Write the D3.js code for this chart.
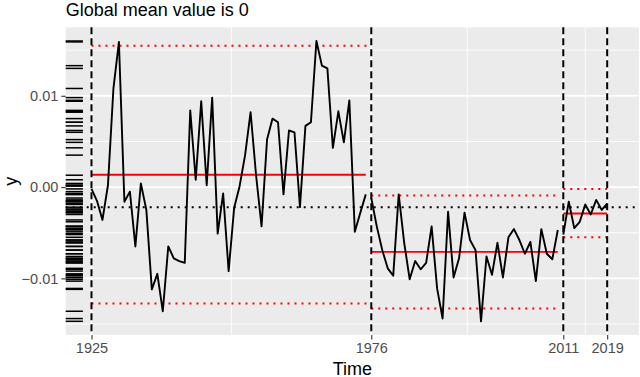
<!DOCTYPE html>
<html><head><meta charset="utf-8">
<script src="https://cdn.jsdelivr.net/npm/d3@7"></script>
<style>body{margin:0;background:#fff;} svg{display:block;font-family:"Liberation Sans",Arial,Helvetica,sans-serif;}</style>
</head><body>
<svg id="chart" width="640" height="377"></svg>
<script>
// ---- data ----
const years1 = d3.range(1925, 1976);
const values1 = [-0.0002,-0.0015,-0.0036,0.0002,0.0108,0.0159,-0.0016,-0.0005,-0.0065,0.0004,
  -0.0025,-0.0112,-0.0095,-0.0136,-0.0065,-0.0078,-0.0081,-0.0083,0.0084,0.0008,
  0.0094,0.0002,0.0098,-0.0051,-0.0007,-0.0092,-0.0023,0.0001,0.0035,0.0082,
  0.0013,-0.0043,0.0052,0.0075,0.0071,-0.0008,0.0062,0.0060,-0.0022,0.0067,
  0.0071,0.0160,0.0133,0.0130,0.0043,0.0083,0.0049,0.0095,-0.0049,-0.0028,-0.0008];
const years2 = d3.range(1976, 2011);
const values2 = [-0.0012,-0.0043,-0.0069,-0.0089,-0.0097,-0.0008,-0.0061,-0.0101,-0.0081,-0.0090,
  -0.0083,-0.0043,-0.0111,-0.0144,-0.0027,-0.0099,-0.0078,-0.0028,-0.0058,-0.0069,
  -0.0147,-0.0076,-0.0096,-0.0061,-0.0099,-0.0055,-0.0046,-0.0058,-0.0073,-0.0060,
  -0.0103,-0.0046,-0.0073,-0.0079,-0.0047];
const years3 = d3.range(2011, 2020);
const values3 = [-0.0052,-0.0016,-0.0045,-0.0038,-0.0019,-0.0030,-0.0014,-0.0025,-0.0018];

const segStart = [1925, 1976, 2011];
const segEnd = [1975, 2010, 2019];
const bandEnd = [1976, 2010, 2019];
const segMean = [0.00135, -0.0071, -0.0029];
const segUpper = [0.01547, -0.00092, -0.0002];
const segLower = [-0.01275, -0.0133, -0.0055];
const globalLine = -0.0022;
const breakYears = [1925, 1976, 2011, 2019];
const xMinor = [1950.5, 1993.5, 2015];
const yMajor = [-0.01, 0, 0.01];
const yMinor = [-0.015, -0.005, 0.005, 0.015];
const titleText = "Global mean value is 0";
const xTitle = "Time", yTitle = "y";

// ---- layout ----
const P = {left: 65.7, right: 639, top: 27.3, bottom: 335};
const svg = d3.select("#chart");
const x = d3.scaleLinear().domain([1920.3, 2024.8]).range([P.left, P.right]);
const y = d3.scaleLinear().domain([-0.0162, 0.0175]).range([P.bottom, P.top]);

svg.append("rect").attr("x", P.left).attr("y", P.top)
  .attr("width", P.right - P.left).attr("height", P.bottom - P.top).attr("fill", "#EBEBEB");

const g = svg.append("g");
// minor grid
g.selectAll(".ymin").data(yMinor).enter().append("line")
  .attr("x1", P.left).attr("x2", P.right).attr("y1", d => y(d)).attr("y2", d => y(d))
  .attr("stroke", "#fff").attr("stroke-width", 0.9);
g.selectAll(".xmin").data(xMinor).enter().append("line")
  .attr("y1", P.top).attr("y2", P.bottom).attr("x1", d => x(d)).attr("x2", d => x(d))
  .attr("stroke", "#fff").attr("stroke-width", 0.9);
// major grid
g.selectAll(".ymaj").data(yMajor).enter().append("line")
  .attr("x1", P.left).attr("x2", P.right).attr("y1", d => y(d)).attr("y2", d => y(d))
  .attr("stroke", "#fff").attr("stroke-width", 1.8);
g.selectAll(".xmaj").data(breakYears).enter().append("line")
  .attr("y1", P.top).attr("y2", P.bottom).attr("x1", d => x(d)).attr("x2", d => x(d))
  .attr("stroke", "#fff").attr("stroke-width", 1.8);

// rug
const allVals = values1.concat(values2, values3);
g.selectAll(".rug").data(allVals).enter().append("line")
  .attr("x1", P.left).attr("x2", P.left + 0.03 * (P.right - P.left))
  .attr("y1", d => y(d)).attr("y2", d => y(d))
  .attr("stroke", "#000").attr("stroke-width", 1.5);

// global dotted line
g.append("line").attr("x1", P.left).attr("x2", P.right)
  .attr("y1", y(globalLine)).attr("y2", y(globalLine))
  .attr("stroke", "#000").attr("stroke-width", 2).attr("stroke-dasharray", "2,5");

// segment bands
segStart.forEach((s, i) => {
  [segUpper[i], segLower[i]].forEach(v => {
    g.append("line").attr("x1", x(s)).attr("x2", x(bandEnd[i]))
      .attr("y1", y(v)).attr("y2", y(v))
      .attr("stroke", "#FF0000").attr("stroke-width", 2).attr("stroke-dasharray", "2,5");
  });
  g.append("line").attr("x1", x(s)).attr("x2", x(segEnd[i]))
    .attr("y1", y(segMean[i])).attr("y2", y(segMean[i]))
    .attr("stroke", "#FF0000").attr("stroke-width", 1.9);
});

// data lines
const line = d3.line().x(d => x(d[0])).y(d => y(d[1]));
[[years1, values1], [years2, values2], [years3, values3]].forEach(([ys, vs]) => {
  g.append("path").datum(ys.map((yr, i) => [yr, vs[i]]))
    .attr("d", line).attr("fill", "none").attr("stroke", "#000")
    .attr("stroke-width", 1.9).attr("stroke-linejoin", "round");
});

// vertical dashed break lines
g.selectAll(".brk").data(breakYears).enter().append("line")
  .attr("x1", d => x(d)).attr("x2", d => x(d)).attr("y1", P.top).attr("y2", P.bottom)
  .attr("stroke", "#000").attr("stroke-width", 2).attr("stroke-dasharray", "7,4");

// axes
const fmt = d => (d < 0 ? "\u2212" : "") + d3.format(".2f")(Math.abs(d));
const yAxis = svg.append("g").attr("transform", `translate(${P.left},0)`)
  .call(d3.axisLeft(y).tickValues(yMajor).tickFormat(fmt).tickSize(4.4).tickPadding(3));
const xAxis = svg.append("g").attr("transform", `translate(0,${P.bottom})`)
  .call(d3.axisBottom(x).tickValues(breakYears).tickFormat(d3.format("d")).tickSize(4.4).tickPadding(3.5));
[yAxis, xAxis].forEach(a => {
  a.select(".domain").remove();
  a.selectAll(".tick line").attr("stroke", "#333").attr("stroke-width", 1.1);
  a.selectAll(".tick text").attr("fill", "#4D4D4D").style("font-size", "14.5px")
    .style("font-family", '"Liberation Sans",Arial,sans-serif');
});

// titles
svg.append("text").attr("x", P.left).attr("y", 15.5).text(titleText)
  .attr("font-size", 18).attr("fill", "#000");
svg.append("text").attr("x", (P.left + P.right) / 2).attr("y", 374.5).text(xTitle)
  .attr("text-anchor", "middle").attr("font-size", 18).attr("fill", "#000");
svg.append("text").attr("transform", `translate(16.5,${(P.top + P.bottom) / 2}) rotate(-90)`)
  .text(yTitle).attr("text-anchor", "middle").attr("font-size", 18).attr("fill", "#000");
</script>
</body></html>
